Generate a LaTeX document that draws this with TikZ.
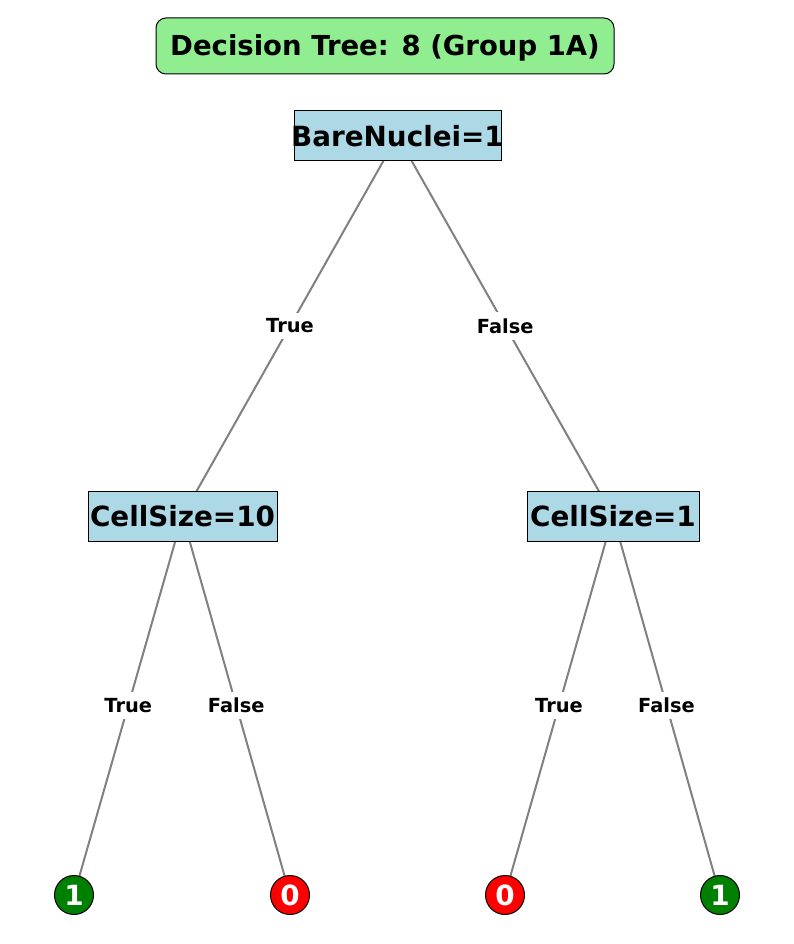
\documentclass[tikz,border=0pt]{standalone}
\usepackage{fontspec}
\setmainfont{DejaVu Sans}
\usetikzlibrary{backgrounds}
\definecolor{lightblue}{RGB}{173,216,230}
\definecolor{lightgreen}{RGB}{144,238,144}
\definecolor{leafgreen}{RGB}{0,128,0}
\definecolor{leafred}{RGB}{255,0,0}
\definecolor{edgegray}{RGB}{128,128,128}
\tikzset{
	split/.style={draw=black, fill=lightblue, line width=1pt, minimum height=50pt, inner sep=0pt, font=\fontsize{27.8}{30}\selectfont\bfseries},
	leaf/.style={circle, draw=black, line width=1pt, minimum size=39pt, inner sep=0pt, text=white, font=\fontsize{27.8}{30}\selectfont\bfseries},
	edge/.style={draw=edgegray, line width=2pt},
	answer/.style={fill=white, inner sep=6pt, font=\fontsize{19.4}{21}\selectfont\bfseries},
}

\begin{document}
\begin{tikzpicture}[x=1pt, y=-1pt]
			%%%%% START %%%%%
			
			\useasboundingbox (0, 0) rectangle (794, 944);
			
			\node[draw=black, fill=lightgreen, rounded corners=10pt, line width=1pt, minimum width=458pt, minimum height=56pt, inner sep=0pt, text height=20pt, text depth=0pt, font=\fontsize{27.5}{30}\selectfont\bfseries] (title) at (385, 46) {Decision Tree: 8 (Group 1A)};
			
			\node[split, minimum width=207pt] (bare) at (397.5, 136) {\makebox[0pt]{BareNuclei=1}};
			\node[split, minimum width=189pt] (cellten) at (182.5, 516) {\makebox[0pt]{CellSize=10}};
			\node[split, minimum width=172pt] (cellone) at (613, 516) {\makebox[0pt]{CellSize=1}};
			
			\node[leaf, fill=leafgreen] (leafa) at (74, 895) {1};
			\node[leaf, fill=leafred] (leafb) at (290, 895) {0};
			\node[leaf, fill=leafred] (leafc) at (505, 895) {0};
			\node[leaf, fill=leafgreen] (leafd) at (720, 895) {1};
			
			\begin{pgfonlayer}{background}
				\draw[edge] (bare.center) -- node[answer] {True} (cellten.center);
				\draw[edge] (bare.center) -- node[answer] {False} (cellone.center);
				
				\draw[edge] (cellten.center) -- node[answer] {True} (leafa.center);
				\draw[edge] (cellten.center) -- node[answer] {False} (leafb.center);
				\draw[edge] (cellone.center) -- node[answer] {True} (leafc.center);
				\draw[edge] (cellone.center) -- node[answer] {False} (leafd.center);
			\end{pgfonlayer}
			
			%%%%% END %%%%%
\end{tikzpicture}
\end{document}
